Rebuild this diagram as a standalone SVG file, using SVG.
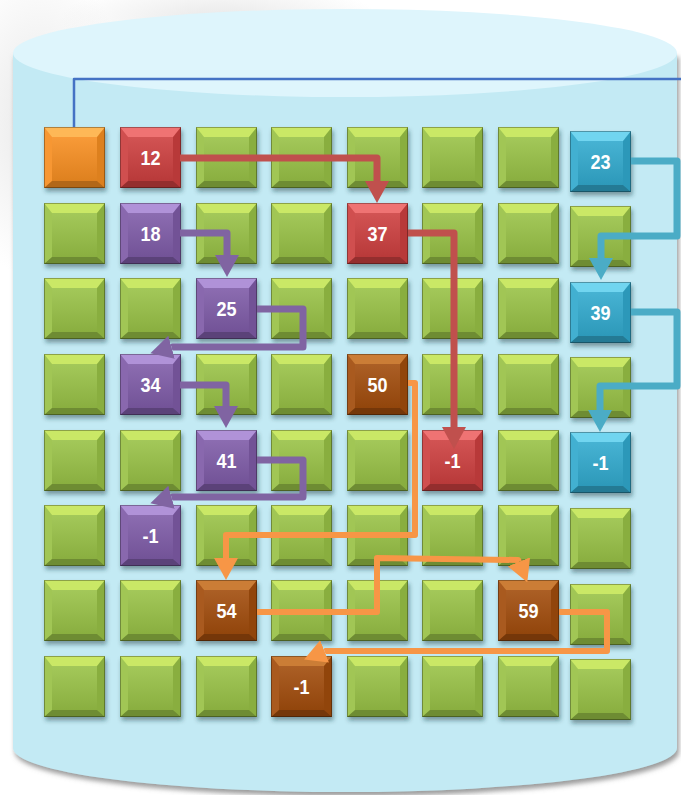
<svg xmlns="http://www.w3.org/2000/svg" width="681" height="795" viewBox="0 0 681 795">
<style>
.face{filter:url(#sqShadow)}
.g{color:#D2EE6C}
.red{color:#F57C7C}
.pur{color:#B99BE0}
.blu{color:#7CDDF6}
.org{color:#FFC060}
.brn{color:#D2863E}
.g .face{fill:#99C247}
.red .face{fill:#CD4141}
.pur .face{fill:#7F5CA8}
.blu .face{fill:#31AACE}
.org .face{fill:#F78F22}
.brn .face{fill:#A24E0D}
.lbl{fill:#fff;font-family:'Liberation Sans Narrow','Liberation Sans',Arial,sans-serif;font-weight:bold;font-size:21px;text-anchor:middle;transform-box:fill-box;transform-origin:center;transform:scaleX(0.86)}
.ln{fill:none;stroke-linejoin:round}
.c-red{stroke:#C0504D;stroke-width:7;marker-end:url(#ah-red)}
.c-pur{stroke:#8064A2;stroke-width:7;marker-end:url(#ah-pur)}
.c-org{stroke:#F79646;stroke-width:6;marker-end:url(#ah-org)}
.c-blu{stroke:#4BACC6;stroke-width:7;marker-end:url(#ah-blu)}
</style>
<defs>
  <radialGradient id="cloud" cx="0.5" cy="0.5" r="0.5">
    <stop offset="0" stop-color="#d8d8d8" stop-opacity="0.6"/>
    <stop offset="1" stop-color="#d8d8d8" stop-opacity="0"/>
  </radialGradient>
  <filter id="cylShadow" x="-5%" y="-5%" width="110%" height="110%">
    <feDropShadow dx="2" dy="4" stdDeviation="2.5" flood-color="#707070" flood-opacity="0.7"/>
  </filter>
  <filter id="sqShadow" x="-20%" y="-20%" width="150%" height="150%">
    <feDropShadow dx="1.5" dy="3.5" stdDeviation="2.2" flood-color="#16343a" flood-opacity="0.45"/>
  </filter>
  <linearGradient id="faceShade" x1="0" y1="0" x2="0" y2="1">
    <stop offset="0" stop-color="#fff" stop-opacity="0.1"/>
    <stop offset="1" stop-color="#000" stop-opacity="0.1"/>
  </linearGradient>
  <symbol id="bevel" viewBox="0 0 61 61" width="61" height="61">
    <rect x="8" y="10" width="45" height="44" fill="url(#faceShade)"/>
    <polygon points="0,0 61,0 53,10 8,10" fill="currentColor" fill-opacity="0.85"/>
    <polygon points="0,0 8,10 8,54 0,61" fill="#fff" fill-opacity="0.08"/>
    <polygon points="61,0 53,10 53,54 61,61" fill="#000" fill-opacity="0.1"/>
    <polygon points="0,61 8,54 53,54 61,61" fill="#000" fill-opacity="0.28"/>
    <rect x="0.5" y="0.5" width="60" height="60" fill="none" stroke="#000" stroke-opacity="0.3"/>
  </symbol>
  <marker id="ah-red" markerUnits="userSpaceOnUse" viewBox="0 -12 22 24" refX="0" refY="0" markerWidth="22" markerHeight="24" orient="auto"><path d="M0,-12 L22,0 L0,12Z" fill="#C0504D"/></marker>
  <marker id="ah-pur" markerUnits="userSpaceOnUse" viewBox="0 -12 22 24" refX="0" refY="0" markerWidth="22" markerHeight="24" orient="auto"><path d="M0,-12 L22,0 L0,12Z" fill="#8064A2"/></marker>
  <marker id="ah-org" markerUnits="userSpaceOnUse" viewBox="0 -12 22 24" refX="0" refY="0" markerWidth="22" markerHeight="24" orient="auto"><path d="M0,-12 L22,0 L0,12Z" fill="#F79646"/></marker>
  <marker id="ah-blu" markerUnits="userSpaceOnUse" viewBox="0 -12 22 24" refX="0" refY="0" markerWidth="22" markerHeight="24" orient="auto"><path d="M0,-12 L22,0 L0,12Z" fill="#4BACC6"/></marker>
</defs>

<rect width="681" height="795" fill="#fff"/>
<ellipse cx="40" cy="120" rx="90" ry="160" fill="url(#cloud)"/>
<ellipse cx="220" cy="20" rx="160" ry="40" fill="url(#cloud)"/>

<g id="cylinder">
  <path d="M13,53 L13,748 A332,44 0 0 0 677,748 L677,53 Z" fill="#C3EAF4" filter="url(#cylShadow)"/>
  <ellipse cx="345" cy="53" rx="332" ry="44" fill="#DEF5FC"/>
</g>

<g id="nodes">
  <!-- row 0 -->
  <g id="n0-0" class="sq org" transform="translate(44,127)"><rect class="face" width="61" height="61"/><use href="#bevel"/></g>
  <g id="n0-1" class="sq red" transform="translate(120,127)"><rect class="face" width="61" height="61"/><use href="#bevel"/><text class="lbl" x="30.5" y="38">12</text></g>
  <g id="n0-2" class="sq g" transform="translate(196,127)"><rect class="face" width="61" height="61"/><use href="#bevel"/></g>
  <g id="n0-3" class="sq g" transform="translate(271,127)"><rect class="face" width="61" height="61"/><use href="#bevel"/></g>
  <g id="n0-4" class="sq g" transform="translate(347,127)"><rect class="face" width="61" height="61"/><use href="#bevel"/></g>
  <g id="n0-5" class="sq g" transform="translate(422,127)"><rect class="face" width="61" height="61"/><use href="#bevel"/></g>
  <g id="n0-6" class="sq g" transform="translate(498,127)"><rect class="face" width="61" height="61"/><use href="#bevel"/></g>
  <g id="n0-7" class="sq blu" transform="translate(570,131)"><rect class="face" width="61" height="61"/><use href="#bevel"/><text class="lbl" x="30.5" y="38">23</text></g>
  <!-- row 1 -->
  <g id="n1-0" class="sq g" transform="translate(44,203)"><rect class="face" width="61" height="61"/><use href="#bevel"/></g>
  <g id="n1-1" class="sq pur" transform="translate(120,203)"><rect class="face" width="61" height="61"/><use href="#bevel"/><text class="lbl" x="30.5" y="38">18</text></g>
  <g id="n1-2" class="sq g" transform="translate(196,203)"><rect class="face" width="61" height="61"/><use href="#bevel"/></g>
  <g id="n1-3" class="sq g" transform="translate(271,203)"><rect class="face" width="61" height="61"/><use href="#bevel"/></g>
  <g id="n1-4" class="sq red" transform="translate(347,203)"><rect class="face" width="61" height="61"/><use href="#bevel"/><text class="lbl" x="30.5" y="38">37</text></g>
  <g id="n1-5" class="sq g" transform="translate(422,203)"><rect class="face" width="61" height="61"/><use href="#bevel"/></g>
  <g id="n1-6" class="sq g" transform="translate(498,203)"><rect class="face" width="61" height="61"/><use href="#bevel"/></g>
  <g id="n1-7" class="sq g" transform="translate(570,206)"><rect class="face" width="61" height="61"/><use href="#bevel"/></g>
  <!-- row 2 -->
  <g id="n2-0" class="sq g" transform="translate(44,278)"><rect class="face" width="61" height="61"/><use href="#bevel"/></g>
  <g id="n2-1" class="sq g" transform="translate(120,278)"><rect class="face" width="61" height="61"/><use href="#bevel"/></g>
  <g id="n2-2" class="sq pur" transform="translate(196,278)"><rect class="face" width="61" height="61"/><use href="#bevel"/><text class="lbl" x="30.5" y="38">25</text></g>
  <g id="n2-3" class="sq g" transform="translate(271,278)"><rect class="face" width="61" height="61"/><use href="#bevel"/></g>
  <g id="n2-4" class="sq g" transform="translate(347,278)"><rect class="face" width="61" height="61"/><use href="#bevel"/></g>
  <g id="n2-5" class="sq g" transform="translate(422,278)"><rect class="face" width="61" height="61"/><use href="#bevel"/></g>
  <g id="n2-6" class="sq g" transform="translate(498,278)"><rect class="face" width="61" height="61"/><use href="#bevel"/></g>
  <g id="n2-7" class="sq blu" transform="translate(570,282)"><rect class="face" width="61" height="61"/><use href="#bevel"/><text class="lbl" x="30.5" y="38">39</text></g>
  <!-- row 3 -->
  <g id="n3-0" class="sq g" transform="translate(44,354)"><rect class="face" width="61" height="61"/><use href="#bevel"/></g>
  <g id="n3-1" class="sq pur" transform="translate(120,354)"><rect class="face" width="61" height="61"/><use href="#bevel"/><text class="lbl" x="30.5" y="38">34</text></g>
  <g id="n3-2" class="sq g" transform="translate(196,354)"><rect class="face" width="61" height="61"/><use href="#bevel"/></g>
  <g id="n3-3" class="sq g" transform="translate(271,354)"><rect class="face" width="61" height="61"/><use href="#bevel"/></g>
  <g id="n3-4" class="sq brn" transform="translate(347,354)"><rect class="face" width="61" height="61"/><use href="#bevel"/><text class="lbl" x="30.5" y="38">50</text></g>
  <g id="n3-5" class="sq g" transform="translate(422,354)"><rect class="face" width="61" height="61"/><use href="#bevel"/></g>
  <g id="n3-6" class="sq g" transform="translate(498,354)"><rect class="face" width="61" height="61"/><use href="#bevel"/></g>
  <g id="n3-7" class="sq g" transform="translate(570,357)"><rect class="face" width="61" height="61"/><use href="#bevel"/></g>
  <!-- row 4 -->
  <g id="n4-0" class="sq g" transform="translate(44,430)"><rect class="face" width="61" height="61"/><use href="#bevel"/></g>
  <g id="n4-1" class="sq g" transform="translate(120,430)"><rect class="face" width="61" height="61"/><use href="#bevel"/></g>
  <g id="n4-2" class="sq pur" transform="translate(196,430)"><rect class="face" width="61" height="61"/><use href="#bevel"/><text class="lbl" x="30.5" y="38">41</text></g>
  <g id="n4-3" class="sq g" transform="translate(271,430)"><rect class="face" width="61" height="61"/><use href="#bevel"/></g>
  <g id="n4-4" class="sq g" transform="translate(347,430)"><rect class="face" width="61" height="61"/><use href="#bevel"/></g>
  <g id="n4-5" class="sq red" transform="translate(422,430)"><rect class="face" width="61" height="61"/><use href="#bevel"/><text class="lbl" x="30.5" y="38">-1</text></g>
  <g id="n4-6" class="sq g" transform="translate(498,430)"><rect class="face" width="61" height="61"/><use href="#bevel"/></g>
  <g id="n4-7" class="sq blu" transform="translate(570,432)"><rect class="face" width="61" height="61"/><use href="#bevel"/><text class="lbl" x="30.5" y="38">-1</text></g>
  <!-- row 5 -->
  <g id="n5-0" class="sq g" transform="translate(44,505)"><rect class="face" width="61" height="61"/><use href="#bevel"/></g>
  <g id="n5-1" class="sq pur" transform="translate(120,505)"><rect class="face" width="61" height="61"/><use href="#bevel"/><text class="lbl" x="30.5" y="38">-1</text></g>
  <g id="n5-2" class="sq g" transform="translate(196,505)"><rect class="face" width="61" height="61"/><use href="#bevel"/></g>
  <g id="n5-3" class="sq g" transform="translate(271,505)"><rect class="face" width="61" height="61"/><use href="#bevel"/></g>
  <g id="n5-4" class="sq g" transform="translate(347,505)"><rect class="face" width="61" height="61"/><use href="#bevel"/></g>
  <g id="n5-5" class="sq g" transform="translate(422,505)"><rect class="face" width="61" height="61"/><use href="#bevel"/></g>
  <g id="n5-6" class="sq g" transform="translate(498,505)"><rect class="face" width="61" height="61"/><use href="#bevel"/></g>
  <g id="n5-7" class="sq g" transform="translate(570,508)"><rect class="face" width="61" height="61"/><use href="#bevel"/></g>
  <!-- row 6 -->
  <g id="n6-0" class="sq g" transform="translate(44,580)"><rect class="face" width="61" height="61"/><use href="#bevel"/></g>
  <g id="n6-1" class="sq g" transform="translate(120,580)"><rect class="face" width="61" height="61"/><use href="#bevel"/></g>
  <g id="n6-2" class="sq brn" transform="translate(196,580)"><rect class="face" width="61" height="61"/><use href="#bevel"/><text class="lbl" x="30.5" y="38">54</text></g>
  <g id="n6-3" class="sq g" transform="translate(271,580)"><rect class="face" width="61" height="61"/><use href="#bevel"/></g>
  <g id="n6-4" class="sq g" transform="translate(347,580)"><rect class="face" width="61" height="61"/><use href="#bevel"/></g>
  <g id="n6-5" class="sq g" transform="translate(422,580)"><rect class="face" width="61" height="61"/><use href="#bevel"/></g>
  <g id="n6-6" class="sq brn" transform="translate(498,580)"><rect class="face" width="61" height="61"/><use href="#bevel"/><text class="lbl" x="30.5" y="38">59</text></g>
  <g id="n6-7" class="sq g" transform="translate(570,584)"><rect class="face" width="61" height="61"/><use href="#bevel"/></g>
  <!-- row 7 -->
  <g id="n7-0" class="sq g" transform="translate(44,656)"><rect class="face" width="61" height="61"/><use href="#bevel"/></g>
  <g id="n7-1" class="sq g" transform="translate(120,656)"><rect class="face" width="61" height="61"/><use href="#bevel"/></g>
  <g id="n7-2" class="sq g" transform="translate(196,656)"><rect class="face" width="61" height="61"/><use href="#bevel"/></g>
  <g id="n7-3" class="sq brn" transform="translate(271,656)"><rect class="face" width="61" height="61"/><use href="#bevel"/><text class="lbl" x="30.5" y="38">-1</text></g>
  <g id="n7-4" class="sq g" transform="translate(347,656)"><rect class="face" width="61" height="61"/><use href="#bevel"/></g>
  <g id="n7-5" class="sq g" transform="translate(422,656)"><rect class="face" width="61" height="61"/><use href="#bevel"/></g>
  <g id="n7-6" class="sq g" transform="translate(498,656)"><rect class="face" width="61" height="61"/><use href="#bevel"/></g>
  <g id="n7-7" class="sq g" transform="translate(570,659)"><rect class="face" width="61" height="61"/><use href="#bevel"/></g>
</g>

<g id="connectors">
  <path class="ln" d="M74,127 V79 H681" stroke="#4472C4" stroke-width="2.5"/>
  <path class="ln c-red" d="M180,158 H377 V181"/>
  <path class="ln c-red" d="M408,233 H454 V427"/>
  <path class="ln c-pur" d="M180,233 H227 V255"/>
  <path class="ln c-pur" d="M257,309 H303 V347 H172.5 l-0.963,0.27"/>
  <path class="ln c-pur" d="M180,385 H226 V406"/>
  <path class="ln c-pur" d="M257,460 H303 V497 H172.5 l-0.963,0.27"/>
  <path class="ln c-org" d="M408,383 H415 V535 H226 V558"/>
  <path class="ln c-org" d="M257,612 H377 V558 L518.2,560 l0.76,1.86"/>
  <path class="ln c-org" d="M559,612 H607 V651 H325.5 l-0.93,0.364"/>
  <path class="ln c-blu" d="M631,161 H677 V236 H601 V258"/>
  <path class="ln c-blu" d="M631,312 H677 V386 H600 V410"/>
</g>
</svg>
